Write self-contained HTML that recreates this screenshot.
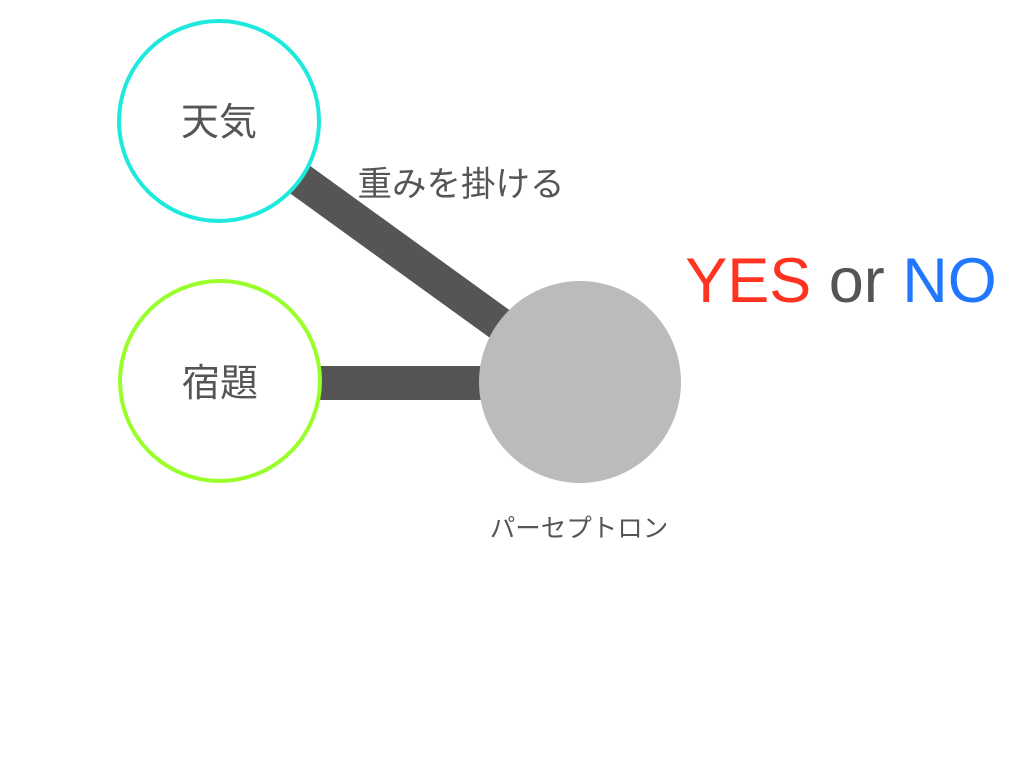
<!DOCTYPE html>
<html><head><meta charset="utf-8"><style>
html,body{margin:0;padding:0;background:#fff;width:1024px;height:768px;overflow:hidden}
</style></head><body>
<svg width="1024" height="768" xmlns="http://www.w3.org/2000/svg" style="font-family:'Liberation Sans','Noto Sans CJK JP',sans-serif">
<line x1="219" y1="121" x2="580" y2="382" stroke="#555" stroke-width="34"/>
<line x1="220" y1="383" x2="580" y2="383" stroke="#555" stroke-width="34"/>
<circle cx="219" cy="121" r="100" fill="#fff" stroke="#1de9dc" stroke-width="4"/>
<circle cx="220" cy="381" r="100" fill="#fff" stroke="#99ff2a" stroke-width="4"/>
<circle cx="580" cy="382" r="101" fill="#bbbbbb"/>
<text x="219" y="135" font-size="38" fill="#555" text-anchor="middle">天気</text>
<text x="220" y="396" font-size="38" fill="#555" text-anchor="middle">宿題</text>
<text x="461" y="196" font-size="34.5" fill="#555" text-anchor="middle">重みを掛ける</text>
<text x="579" y="537" font-size="25.5" fill="#555" text-anchor="middle">パーセプトロン</text>
<text x="841" y="302" font-size="63" text-anchor="middle"><tspan fill="#ff3322">YES</tspan><tspan fill="#555"> or </tspan><tspan fill="#2277ff">NO</tspan></text>
</svg>
</body></html>
